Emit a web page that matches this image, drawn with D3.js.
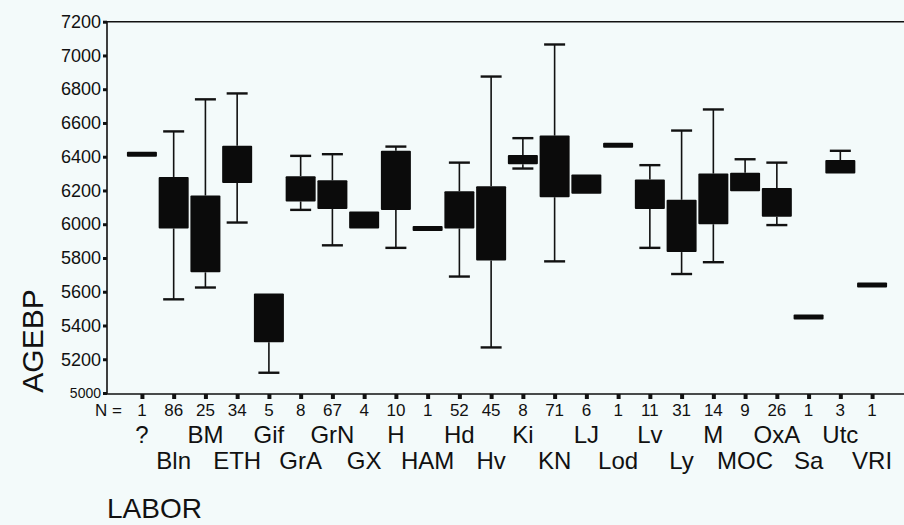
<!DOCTYPE html>
<html>
<head>
<meta charset="utf-8">
<script src="https://cdn.jsdelivr.net/npm/d3@7/dist/d3.min.js"></script>
<style>
  body { margin: 0; background: #f3fafa; }
  text { font-family: "Liberation Sans", Arial, sans-serif; fill: #111; }
</style>
</head>
<body>
<div id="chart"></div>
<script>
// groups (LABOR) and their sample sizes
var labs = ["?", "Bln", "BM", "ETH", "Gif", "GrA", "GrN", "GX", "H", "HAM", "Hd", "Hv",
            "Ki", "KN", "LJ", "Lod", "Lv", "Ly", "M", "MOC", "OxA", "Sa", "Utc", "VRI"];
var counts = [1, 86, 25, 34, 5, 8, 67, 4, 10, 1, 52, 45, 8, 71, 6, 1, 11, 31, 14, 9, 26, 1, 3, 1];

// box plot values (AGEBP)
var whiskLo = [6415, 5555, 5625, 6010, 5120, 6085, 5875, 5975, 5860, 5975, 5690, 5270,
               6330, 5780, 6180, 6468, 5860, 5705, 5775, 6195, 5995, 5450, 6300, 5640];
var q1      = [6415, 5975, 5715, 6245, 5300, 6135, 6090, 5975, 6085, 5975, 5975, 5785,
               6355, 6160, 6180, 6468, 6090, 5835, 6000, 6195, 6045, 5450, 6300, 5640];
var q3      = [6415, 6280, 6170, 6465, 5590, 6285, 6260, 6075, 6435, 5975, 6195, 6225,
               6410, 6525, 6295, 6468, 6265, 6145, 6300, 6305, 6215, 5450, 6380, 5640];
var whiskHi = [6415, 6550, 6740, 6775, 5590, 6405, 6415, 6075, 6460, 5975, 6365, 6875,
               6510, 7065, 6295, 6468, 6350, 6555, 6680, 6385, 6365, 5450, 6435, 5640];

var yTicks = [5000, 5200, 5400, 5600, 5800, 6000, 6200, 6400, 6600, 6800, 7000, 7200];

var width = 904, height = 525;
var plotLeft = 107, plotTop = 21.7, plotBottom = 393;

var svg = d3.select("#chart").append("svg")
        .attr("width", width)
        .attr("height", height);

svg.append("rect").attr("width", width).attr("height", height).attr("fill", "#f3fafa");

var xScale = d3.scalePoint().domain(labs).range([plotLeft, 907]).padding(1.1);
var yScale = d3.scaleLinear().domain([5000, 7200]).range([plotBottom, plotTop]);

// frame: left axis, top line, bottom axis
svg.append("path")
        .attr("d", "M" + width + "," + plotTop + "H" + plotLeft + "V" + (plotBottom + 1) + "H" + width)
        .attr("fill", "none")
        .attr("stroke", "#111")
        .attr("stroke-width", 1.6);

// y axis
var yAxis = d3.axisLeft(yScale).tickValues(yTicks).tickFormat(d3.format("d")).tickSize(4).tickPadding(2);
var gy = svg.append("g")
        .attr("transform", "translate(" + plotLeft + ",0)")
        .call(yAxis);
gy.select(".domain").remove();
gy.selectAll(".tick line").attr("stroke", "#111").attr("stroke-width", 3);
gy.selectAll(".tick text")
        .style("font-size", function(d) { return d == 5000 ? "14px" : "18px"; })
        .attr("fill", "#111");

// x axis (tick marks only)
var xAxis = d3.axisBottom(xScale).tickSize(5).tickFormat("");
var gx = svg.append("g")
        .attr("transform", "translate(0," + (plotBottom + 1) + ")")
        .call(xAxis);
gx.select(".domain").remove();
gx.selectAll(".tick line").attr("stroke", "#111").attr("stroke-width", 4);

// boxes
var data = labs.map(function(l, i) {
    return {lab: l, lo: whiskLo[i], q1: q1[i], q3: q3[i], hi: whiskHi[i]};
});

var boxW = 30, capW = 21;
var g = svg.append("g").attr("class", "boxes");
var box = g.selectAll("g").data(data).enter().append("g")
        .attr("transform", function(d) { return "translate(" + xScale(d.lab) + ",0)"; });

// whisker stems
box.filter(function(d) { return d.hi > d.q3; }).append("line")
        .attr("y1", function(d) { return yScale(d.hi); })
        .attr("y2", function(d) { return yScale(d.q3); })
        .attr("stroke", "#111").attr("stroke-width", 1.6);
box.filter(function(d) { return d.lo < d.q1; }).append("line")
        .attr("y1", function(d) { return yScale(d.lo); })
        .attr("y2", function(d) { return yScale(d.q1); })
        .attr("stroke", "#111").attr("stroke-width", 1.6);
// caps
box.filter(function(d) { return d.hi > d.q3; }).append("line")
        .attr("x1", -capW / 2).attr("x2", capW / 2)
        .attr("y1", function(d) { return yScale(d.hi); })
        .attr("y2", function(d) { return yScale(d.hi); })
        .attr("stroke", "#111").attr("stroke-width", 2.4);
box.filter(function(d) { return d.lo < d.q1; }).append("line")
        .attr("x1", -capW / 2).attr("x2", capW / 2)
        .attr("y1", function(d) { return yScale(d.lo); })
        .attr("y2", function(d) { return yScale(d.lo); })
        .attr("stroke", "#111").attr("stroke-width", 2.4);
// box body (a single value shows as a thick bar)
box.append("rect")
        .attr("x", -boxW / 2)
        .attr("width", boxW)
        .attr("y", function(d) {
            var h = yScale(d.q1) - yScale(d.q3);
            return h < 5 ? yScale(d.q3) - (5 - h) / 2 : yScale(d.q3);
        })
        .attr("height", function(d) { return Math.max(5, yScale(d.q1) - yScale(d.q3)); })
        .attr("rx", 1)
        .attr("fill", "#0b0b0b");

// counts row
svg.append("text")
        .attr("x", 95).attr("y", 416)
        .style("font-size", "17px")
        .text("N =");
svg.selectAll("text.count").data(labs).enter().append("text")
        .attr("class", "count")
        .attr("x", function(d) { return xScale(d); })
        .attr("y", 416)
        .attr("text-anchor", "middle")
        .style("font-size", "17px")
        .text(function(d, i) { return counts[i]; });

// category labels in two staggered rows
svg.selectAll("text.lab").data(labs).enter().append("text")
        .attr("class", "lab")
        .attr("x", function(d) { return xScale(d); })
        .attr("y", function(d, i) { return i % 2 == 0 ? 443 : 469; })
        .attr("text-anchor", "middle")
        .style("font-size", "24px")
        .text(function(d) { return d; });

// axis titles
svg.append("text")
        .attr("x", 107).attr("y", 518)
        .style("font-size", "28px")
        .text("LABOR");
svg.append("text")
        .attr("transform", "translate(43,341) rotate(-90)")
        .attr("text-anchor", "middle")
        .style("font-size", "30px")
        .text("AGEBP");
</script>
</body>
</html>
